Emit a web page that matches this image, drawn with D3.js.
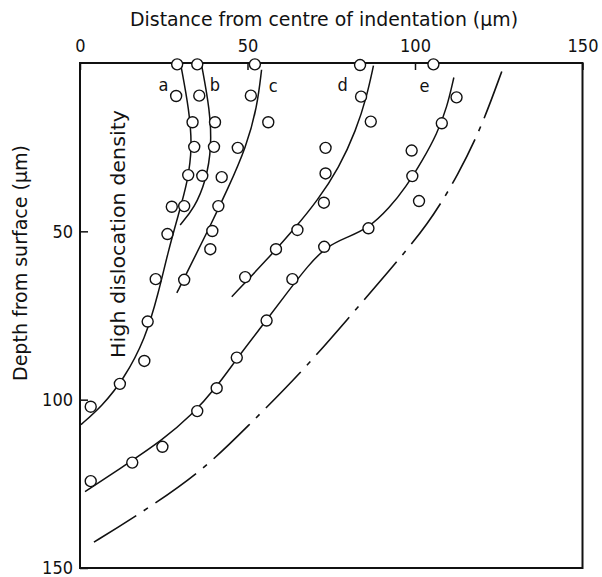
<!DOCTYPE html>
<html>
<head>
<meta charset="utf-8">
<script src="https://cdn.jsdelivr.net/npm/d3@7"></script>
<style>
  body { margin: 0; background: #fff; }
  svg text { font-family: "DejaVu Sans Condensed", "Liberation Sans Narrow", "DejaVu Sans", sans-serif; fill: #111; }
</style>
</head>
<body>
<svg id="chart" width="602" height="577"></svg>
<script>
// tick labels
var tickX = [0, 50, 100, 150];
var tickY = [50, 100, 150];

// measured points: distance (um) and depth (um)
var pointDist  = [29.0, 35.0, 52.2, 83.6, 105.5, 28.7, 35.6, 51.0, 83.9, 112.4,
                  56.2, 33.6, 40.3, 86.8, 108.0, 34.1, 40.0, 47.1, 73.3, 99.0,
                  32.3, 36.5, 42.3, 73.3, 99.2, 27.4, 31.1, 41.3, 72.8, 101.2,
                  26.1, 39.5, 64.9, 86.1, 38.9, 58.5, 72.9, 22.6, 31.1, 49.3,
                  63.4, 55.7, 20.2, 19.2, 46.8, 11.9, 40.8, 3.2, 35.0, 24.6,
                  15.6, 3.2];
var pointDepth = [0.4, 0.4, 0.4, 0.6, 0.4, 9.8, 9.7, 9.7, 10.0, 10.2,
                  17.6, 17.6, 17.6, 17.4, 17.9, 24.9, 24.9, 25.2, 25.2, 26.0,
                  33.3, 33.5, 33.9, 32.8, 33.6, 42.7, 42.5, 42.5, 41.5, 41.0,
                  50.8, 49.9, 49.6, 49.1, 55.3, 55.3, 54.6, 64.2, 64.4, 63.6,
                  64.2, 76.5, 76.8, 88.5, 87.5, 95.3, 96.6, 102.1, 103.4, 114.0,
                  118.7, 124.2];

// fitted curves [distance, depth]
var curveA = [[30.1,0.6],[32.6,14],[33.5,25],[32.2,35],[29.4,45],[26.3,56],
              [23.5,68],[19.5,82],[13,94],[6.5,102],[0.3,107.4]];
var curveB = [[36.3,0.6],[38.8,14],[39.3,25],[37.6,35],[34.2,43],[29.9,48.1]];
var curveC = [[54.2,2.0],[52.9,13],[49.6,25],[44.3,37],[38.3,49.6],[32.8,60.5],[28.9,68.3]];
var curveD = [[87.6,0.8],[85.6,10],[82.4,20],[77.4,31],[70.8,41],[64.2,49],
              [56.2,58],[45.3,69.4]];
var curveE = [[111.6,4.3],[109.6,13],[106.6,21],[102.2,29],[97.2,37],[92.4,43],
              [86.1,49.1],[79.6,51.8],[73.6,54.5],[68.2,60],[61.7,68.4],[55.2,77],
              [47.4,87],[40.6,96.5],[33.4,104.5],[24.6,112],[14.5,118.8],[1.5,127.3]];
var envelope = [[125.9,2.5],[119.9,18.9],[113,33],[104,48],[92,62],[80,76],
                [66,92],[50,108],[35.8,121.9],[15.8,135.2],[3.5,142.7]];

var curveNames = ["a", "b", "c", "d", "e"];
var curveNameDist  = [24.9, 40.3, 57.7, 78.4, 102.8];
var curveNameDepth = [6.5, 6.5, 6.8, 6.3, 6.8];

var svg = d3.select("#chart");
var margin = {left: 80, right: 582.5, top: 63, bottom: 568};

var x = d3.scaleLinear().domain([0, 150]).range([margin.left, margin.right]);
var y = d3.scaleLinear().domain([0, 150]).range([margin.top, margin.bottom]);

// frame
svg.append("rect")
  .attr("x", margin.left).attr("y", margin.top)
  .attr("width", margin.right - margin.left).attr("height", margin.bottom - margin.top)
  .attr("fill", "none").attr("stroke", "#111").attr("stroke-width", 2);

// axes, ticks pointing inwards
var xAxis = svg.append("g")
  .attr("transform", `translate(0, ${margin.top})`)
  .call(d3.axisTop(x).tickValues(tickX).tickSizeInner(-7).tickSizeOuter(0).tickPadding(11));
var yAxis = svg.append("g")
  .attr("transform", `translate(${margin.left}, 0)`)
  .call(d3.axisLeft(y).tickValues(tickY).tickSizeInner(-8).tickSizeOuter(0).tickPadding(7));
[xAxis, yAxis].forEach(function (g) {
  g.select(".domain").remove();
  g.selectAll("line").attr("stroke", "#111").attr("stroke-width", 1.5);
  g.selectAll("text").style("font-size", "18px").attr("fill", "#111")
    .style("font-family", "'DejaVu Sans Condensed', 'DejaVu Sans', sans-serif");
});

// axis titles
svg.append("text")
  .attr("x", 324).attr("y", 26)
  .attr("text-anchor", "middle")
  .attr("textLength", 388).attr("lengthAdjust", "spacingAndGlyphs")
  .style("font-size", "19px")
  .text("Distance from centre of indentation (\u00b5m)");

svg.append("text")
  .attr("transform", "translate(27, 263) rotate(-90)")
  .attr("text-anchor", "middle")
  .attr("textLength", 236).attr("lengthAdjust", "spacingAndGlyphs")
  .style("font-size", "19px")
  .text("Depth from surface (\u00b5m)");

svg.append("text")
  .attr("transform", "translate(125, 234) rotate(-90)")
  .attr("text-anchor", "middle")
  .attr("textLength", 248).attr("lengthAdjust", "spacingAndGlyphs")
  .style("font-size", "19px")
  .text("High dislocation density");

// curves (smoothed through the traced points)
var line = d3.line()
  .x(function (d) { return x(d[0]); })
  .y(function (d) { return y(d[1]); })
  .curve(d3.curveBasis);

[curveA, curveB, curveC, curveD, curveE].forEach(function (c) {
  svg.append("path").attr("d", line(c))
    .attr("fill", "none").attr("stroke", "#111").attr("stroke-width", 1.5);
});

svg.append("path").attr("d", line(envelope))
  .attr("fill", "none").attr("stroke", "#111").attr("stroke-width", 1.6)
  .attr("stroke-dasharray", "50,9,5,9");

// curve names
svg.selectAll(".cname")
  .data(curveNames)
  .enter().append("text")
  .attr("class", "cname")
  .attr("x", function (d, i) { return x(curveNameDist[i]); })
  .attr("y", function (d, i) { return y(curveNameDepth[i]); })
  .attr("dy", "0.35em")
  .attr("text-anchor", "middle")
  .style("font-size", "18px")
  .text(function (d) { return d; });

// measured points
svg.selectAll("circle")
  .data(pointDist)
  .enter().append("circle")
  .attr("cx", function (d) { return x(d); })
  .attr("cy", function (d, i) { return y(pointDepth[i]); })
  .attr("r", 5.5)
  .attr("fill", "#fff").attr("stroke", "#111").attr("stroke-width", 1.4);
</script>
</body>
</html>
